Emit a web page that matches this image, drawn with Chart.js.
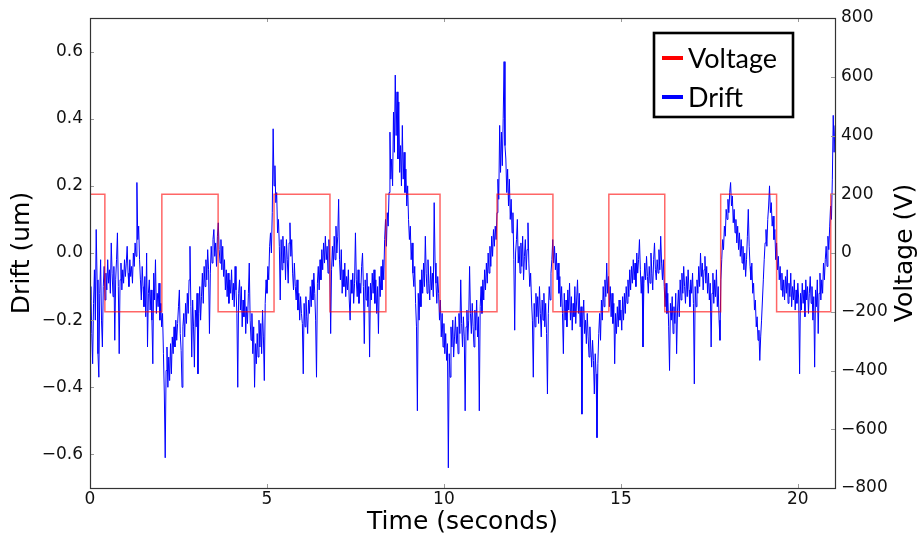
<!DOCTYPE html>
<html>
<head>
<meta charset="utf-8">
<title>Drift vs Voltage</title>
<script src="https://cdn.jsdelivr.net/npm/chart.js@4.4.1/dist/chart.umd.min.js"></script>
<style>
html,body{margin:0;padding:0;background:#fff}
#wrap{width:919px;height:538px}
</style>
</head>
<body>
<div id="wrap"><canvas id="mainChart" width="919" height="538"></canvas></div>
<script>
// drift samples, one every 0.025 s, one row per second
const sampleStep = 0.025;
const drift = [
  -0.14,-0.10,-0.24,-0.33,-0.15,-0.05,-0.20,0.07,-0.08,-0.30,-0.37,-0.12,-0.02,-0.20,-0.28,-0.10,-0.04,-0.14,-0.06,-0.11,
  -0.02,-0.09,-0.05,-0.12,0.03,-0.06,-0.13,-0.04,-0.26,-0.08,-0.02,0.06,-0.10,-0.30,-0.08,-0.03,-0.11,-0.05,-0.09,-0.02,
  -0.07,-0.03,0.02,-0.06,-0.10,-0.02,-0.07,-0.04,-0.09,0.00,-0.04,0.03,-0.01,0.21,0.04,0.08,-0.02,-0.08,-0.14,-0.04,
  -0.10,-0.16,-0.07,-0.19,0.00,-0.28,-0.12,-0.08,-0.17,-0.11,-0.20,-0.33,-0.06,-0.14,-0.02,-0.18,-0.12,-0.16,-0.09,-0.20,
  -0.15,-0.22,-0.18,-0.30,-0.42,-0.61,-0.35,-0.28,-0.40,-0.31,-0.38,-0.27,-0.36,-0.25,-0.30,-0.22,-0.28,-0.20,-0.26,-0.21,
  -0.16,-0.11,-0.24,-0.29,-0.40,-0.22,-0.18,-0.25,-0.15,-0.21,-0.12,-0.18,-0.08,0.02,-0.16,-0.31,-0.14,-0.22,-0.34,-0.17,
  -0.22,-0.12,-0.36,-0.18,-0.10,-0.20,-0.13,-0.06,-0.15,-0.04,-0.10,-0.02,-0.08,0.01,-0.05,-0.24,-0.06,0.02,-0.03,0.04,
  0.07,-0.01,0.03,-0.04,0.05,0.09,0.01,-0.03,0.04,-0.05,0.02,-0.07,-0.02,-0.11,-0.05,-0.13,-0.06,-0.15,-0.08,-0.12,
  -0.05,-0.14,-0.09,-0.16,-0.04,-0.11,-0.18,-0.40,-0.12,-0.08,-0.17,-0.10,-0.22,-0.14,-0.19,-0.11,-0.24,-0.16,-0.21,-0.12,
  -0.03,-0.20,-0.26,-0.18,-0.30,-0.22,-0.40,-0.27,-0.33,-0.24,-0.31,-0.20,-0.28,-0.21,-0.30,-0.17,-0.25,-0.38,-0.15,-0.08,
  -0.12,-0.04,-0.08,0.02,0.06,0.00,0.12,0.37,0.20,0.26,0.15,0.18,0.06,0.10,0.02,-0.14,0.04,-0.05,0.05,-0.03,
  0.02,-0.08,0.04,-0.02,-0.09,0.03,0.09,-0.01,0.04,-0.06,-0.11,-0.03,-0.10,-0.14,-0.08,-0.17,-0.12,-0.20,-0.13,-0.18,
  -0.21,-0.36,-0.15,-0.22,-0.13,-0.19,-0.24,-0.14,-0.18,-0.10,-0.16,-0.08,-0.14,-0.06,-0.12,-0.20,-0.37,-0.09,-0.04,-0.11,
  -0.02,-0.08,0.01,-0.05,0.03,-0.03,0.05,-0.02,0.02,-0.06,0.04,-0.03,-0.24,-0.05,0.02,-0.04,0.05,-0.02,0.08,0.00,
  0.05,0.16,-0.02,-0.08,0.01,-0.12,-0.05,-0.10,-0.03,-0.13,-0.07,-0.11,-0.05,-0.14,-0.20,-0.08,-0.12,-0.06,-0.15,-0.09,
  0.06,-0.08,-0.13,-0.05,-0.15,-0.09,-0.12,-0.04,0.00,-0.10,-0.27,-0.08,-0.14,-0.06,-0.16,-0.10,-0.31,-0.09,-0.14,-0.06,
  -0.12,-0.05,-0.15,-0.08,-0.18,-0.10,-0.24,-0.07,-0.13,-0.04,-0.11,-0.02,-0.08,0.04,0.10,0.02,0.12,0.08,0.18,0.36,
  0.22,0.28,0.20,0.42,0.30,0.53,0.35,0.48,0.28,0.45,0.24,0.32,0.20,0.38,0.22,0.30,0.18,0.25,0.14,0.20,
  0.10,0.04,0.08,-0.02,0.03,-0.06,-0.10,-0.04,-0.15,-0.22,-0.47,-0.12,-0.20,-0.08,-0.16,-0.05,-0.12,-0.03,-0.10,0.05,
  -0.06,-0.12,-0.02,-0.09,-0.14,-0.04,-0.11,-0.06,-0.13,0.15,-0.03,-0.09,-0.15,-0.07,-0.12,-0.20,-0.14,-0.25,-0.18,-0.28,
  -0.21,-0.30,-0.24,-0.32,-0.27,-0.64,-0.30,-0.37,-0.22,-0.28,-0.20,-0.31,-0.25,-0.19,-0.27,-0.22,-0.30,-0.18,-0.24,-0.08,
  -0.21,-0.28,-0.19,-0.25,-0.47,-0.22,-0.17,-0.26,-0.20,-0.04,-0.18,-0.24,-0.15,-0.22,-0.28,-0.17,-0.23,-0.14,-0.25,-0.19,
  -0.47,-0.16,-0.10,-0.18,-0.08,-0.14,-0.05,-0.11,-0.03,-0.09,0.00,-0.06,0.02,-0.04,0.05,-0.01,0.07,0.02,0.08,0.04,
  0.12,0.22,0.16,0.38,0.24,0.36,0.26,0.40,0.57,0.32,0.28,0.18,0.25,0.14,0.22,0.10,0.16,0.06,0.12,-0.02,
  -0.23,0.00,0.04,0.10,-0.03,0.02,-0.06,0.03,-0.04,0.05,-0.08,-0.01,0.04,-0.05,0.01,0.09,-0.03,-0.10,-0.06,-0.14,
  -0.20,-0.37,-0.15,-0.22,-0.12,-0.19,-0.13,-0.21,-0.10,-0.18,-0.25,-0.14,-0.20,-0.12,-0.22,-0.15,-0.24,-0.42,-0.18,-0.10,
  -0.14,-0.06,-0.02,0.04,-0.03,0.02,-0.05,0.00,-0.08,-0.03,-0.12,-0.07,-0.16,-0.10,-0.18,-0.30,-0.12,-0.20,-0.14,-0.22,
  -0.11,-0.17,-0.09,-0.20,-0.13,-0.23,-0.15,-0.19,-0.10,-0.21,-0.14,-0.08,-0.18,-0.12,-0.22,-0.16,-0.48,-0.20,-0.14,-0.24,
  -0.20,-0.27,-0.18,-0.25,-0.31,-0.22,-0.28,-0.34,-0.26,-0.32,-0.42,-0.30,-0.36,-0.55,-0.33,-0.24,-0.18,-0.26,-0.14,-0.20,
  -0.10,-0.16,-0.08,-0.13,-0.03,-0.12,-0.07,-0.16,-0.10,-0.19,-0.12,-0.21,-0.15,-0.33,-0.18,-0.24,-0.16,-0.22,-0.14,-0.20,
  -0.17,-0.23,-0.13,-0.20,-0.12,-0.18,-0.10,-0.15,-0.08,-0.13,-0.05,-0.11,-0.04,-0.09,-0.02,-0.08,-0.03,-0.10,0.00,-0.06,
  -0.02,0.04,-0.05,-0.12,-0.07,-0.28,-0.09,-0.03,-0.08,-0.01,-0.07,-0.12,-0.04,-0.09,0.00,-0.06,-0.11,-0.02,0.03,-0.05,
  -0.08,-0.02,-0.06,0.01,-0.05,0.05,-0.03,-0.08,-0.02,-0.10,-0.16,-0.09,-0.18,-0.12,-0.22,-0.35,-0.15,-0.20,-0.13,-0.24,
  -0.16,-0.21,-0.12,-0.30,-0.17,-0.11,-0.19,-0.08,-0.14,-0.06,-0.12,-0.04,-0.10,-0.15,-0.07,-0.13,-0.05,-0.11,-0.16,-0.08,
  -0.12,-0.06,-0.15,-0.39,-0.10,-0.16,-0.08,-0.12,-0.04,-0.10,0.00,-0.07,-0.03,-0.11,-0.05,-0.01,-0.09,-0.04,-0.12,-0.06,
  -0.14,-0.09,-0.28,-0.12,-0.06,-0.15,-0.08,-0.13,-0.05,-0.16,-0.10,-0.20,-0.26,-0.08,-0.02,0.04,0.01,0.08,0.05,0.13,
  0.10,0.16,0.12,0.18,0.21,0.14,0.17,0.09,0.13,0.06,0.10,0.03,0.08,0.01,0.06,-0.01,0.04,-0.03,0.02,-0.05,
  0.00,-0.07,-0.02,0.05,0.13,0.02,-0.04,-0.08,-0.03,-0.12,-0.09,-0.17,-0.14,-0.22,-0.19,-0.26,-0.23,-0.32,-0.25,-0.20,
  -0.14,-0.08,-0.02,0.03,0.07,0.02,0.10,0.14,0.20,0.12,0.15,0.08,0.11,0.04,0.07,-0.02,0.03,-0.05,-0.01,-0.08,
  -0.04,-0.11,-0.06,-0.13,-0.08,-0.14,-0.07,-0.12,-0.05,-0.15,-0.09,-0.13,-0.06,-0.16,-0.10,-0.14,-0.08,-0.17,-0.11,-0.15,
  -0.09,-0.14,-0.36,-0.12,-0.17,-0.09,-0.15,-0.11,-0.19,-0.08,-0.14,-0.10,-0.18,-0.12,-0.07,-0.15,-0.10,-0.20,-0.13,-0.34,
  -0.11,-0.16,-0.08,-0.24,-0.12,-0.06,-0.14,-0.08,-0.12,-0.03,-0.08,-0.02,0.02,-0.04,0.05,0.01,0.08,0.14,0.10,0.22,
  0.41,0.30,0.38
];

// square-wave drive: level holds from each switch time to the next
const voltTimes = [0,0.42,2.03,3.62,5.2,6.78,8.36,9.89,11.5,13.08,14.66,16.24,17.82,19.4,20.93,21.05];
const voltLevels = [200,-200,200,-200,200,-200,200,-200,200,-200,200,-200,200,-200,200,200];

const timeTicks = [0,5,10,15,20];
const driftTicks = [-0.6,-0.4,-0.2,0,0.2,0.4,0.6];
const voltTicks = [-800,-600,-400,-200,0,200,400,600,800];

const minus = s => String(s).replace('-', '\u2212');
const tickFont = {family:'"DejaVu Sans"', size:17};
const titleFont = {family:'"DejaVu Sans"', size:25};

// inward tick marks, full frame, right axis title and boxed legend
const framePlugin = {
  id:'frame',
  afterDraw(chart){
    const {ctx, chartArea:a, scales} = chart;
    ctx.save();
    ctx.strokeStyle = '#999'; ctx.lineWidth = 1;
    ctx.beginPath();
    timeTicks.forEach(t=>{ const x=Math.round(scales.x.getPixelForValue(t))+0.5; ctx.moveTo(x,a.bottom); ctx.lineTo(x,a.bottom-4); ctx.moveTo(x,a.top); ctx.lineTo(x,a.top+4); });
    driftTicks.forEach(v=>{ const y=Math.round(scales.yDrift.getPixelForValue(v))+0.5; ctx.moveTo(a.left,y); ctx.lineTo(a.left+4,y); });
    voltTicks.forEach(v=>{ const y=Math.round(scales.yVolt.getPixelForValue(v))+0.5; ctx.moveTo(a.right,y); ctx.lineTo(a.right-4,y); });
    ctx.stroke();
    ctx.strokeStyle = '#333'; ctx.lineWidth = 1.2;
    ctx.strokeRect(a.left+0.5, a.top+0.5, a.right-a.left, a.bottom-a.top);

    ctx.fillStyle = '#000';
    ctx.font = '25px "DejaVu Sans"'; ctx.textAlign = 'center'; ctx.textBaseline = 'middle';
    ctx.save();
    ctx.translate(a.right+70, (a.top+a.bottom)/2); ctx.rotate(-Math.PI/2);
    ctx.fillText('Voltage (V)', 0, 0);
    ctx.restore();

    const bx = a.right-181, by = a.top+15, bw = 139, bh = 84;
    ctx.lineWidth = 2.6; ctx.strokeStyle = '#000';
    ctx.strokeRect(bx, by, bw, bh);
    ctx.font = '27px Lato'; ctx.textAlign = 'left';
    chart.data.datasets.forEach((ds,i)=>{
      const y = by + 25 + i*39;
      ctx.strokeStyle = ds.legendColor; ctx.lineWidth = 4;
      ctx.beginPath(); ctx.moveTo(bx+8,y); ctx.lineTo(bx+29,y); ctx.stroke();
      ctx.fillText(ds.label, bx+34, y+1);
    });
    ctx.restore();
  }
};

new Chart(document.getElementById('mainChart'), {
  type:'line',
  data:{datasets:[
    {label:'Voltage', yAxisID:'yVolt', data:voltTimes.map((t,i)=>({x:t,y:voltLevels[i]})), stepped:true,
     borderColor:'rgba(255,0,0,0.6)', legendColor:'#ff0000', borderWidth:1.5, pointRadius:0, fill:false},
    {label:'Drift', yAxisID:'yDrift', data:drift.map((v,i)=>({x:+(i*sampleStep).toFixed(3),y:v})),
     borderColor:'#0000ff', legendColor:'#0000ff', borderWidth:1, pointRadius:0, tension:0, fill:false}
  ]},
  options:{
    responsive:false, animation:false, devicePixelRatio:1,
    layout:{padding:{top:18,right:0,left:0,bottom:0}},
    plugins:{legend:{display:false}, tooltip:{enabled:false}},
    scales:{
      x:{type:'linear', min:0, max:21.05,
         afterBuildTicks:s=>{s.ticks=timeTicks.map(v=>({value:v}));},
         afterFit:s=>{s.height=50;},
         grid:{display:false, drawTicks:false}, border:{display:false},
         ticks:{font:tickFont, color:'#111', padding:1, maxRotation:0, callback:v=>minus(v)},
         title:{display:true, text:'Time (seconds)', font:titleFont, color:'#000', padding:{top:0,bottom:1}}},
      yDrift:{type:'linear', position:'left', min:-0.7, max:0.7,
         afterBuildTicks:s=>{s.ticks=driftTicks.map(v=>({value:v}));},
         afterFit:s=>{s.width=90;},
         grid:{display:false, drawTicks:false}, border:{display:false},
         ticks:{font:tickFont, color:'#111', padding:7, callback:v=>minus(v.toFixed(1))},
         title:{display:true, text:'Drift (um)', font:titleFont, color:'#000', padding:{top:7,bottom:0}}},
      yVolt:{type:'linear', position:'right', min:-800, max:800,
         afterBuildTicks:s=>{s.ticks=voltTicks.map(v=>({value:v}));},
         afterFit:s=>{s.width=84;},
         grid:{display:false, drawTicks:false}, border:{display:false},
         ticks:{font:tickFont, color:'#111', padding:6, callback:v=>minus(v)}}
    }
  },
  plugins:[framePlugin]
});
</script>
</body>
</html>
